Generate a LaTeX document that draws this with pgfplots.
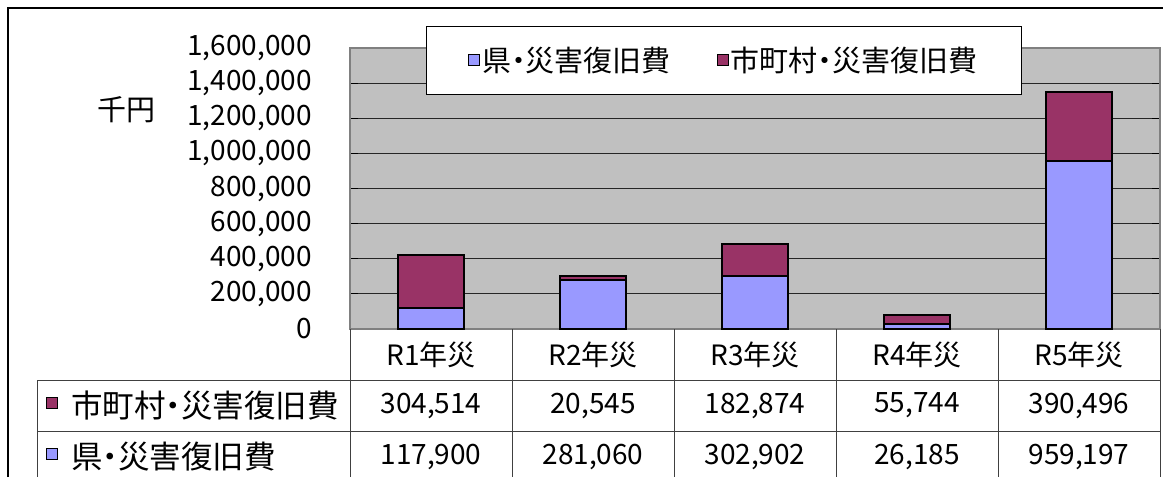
\documentclass[border=0pt]{standalone}
\usepackage{fontspec}
\setmainfont[RawFeature=+palt]{Noto Sans CJK JP}
\usepackage{pgfplots}
\pgfplotsset{compat=1.18}
\definecolor{pgray}{HTML}{C0C0C0}
\definecolor{lav}{HTML}{9999FF}
\definecolor{mar}{HTML}{993366}
\newcommand{\fs}[1]{\fontsize{#1}{#1}\selectfont}
\begin{document}
\begin{tikzpicture}
\useasboundingbox (0,0) rectangle (1163pt,-477pt);
\begin{axis}[
  at={(350pt,-329pt)}, anchor=south west,
  scale only axis, width=810pt, height=281pt,
  xmin=-0.5, xmax=4.5, ymin=0, ymax=1600000,
  ybar stacked, bar width=0.41,
  xtick={0,1,2,3,4},
  xticklabels={R1年災,R2年災,R3年災,R4年災,R5年災},
  xtick style={draw=none},
  xticklabel style={anchor=center, yshift=-25.5pt, font=\fs{28}},
  ytick={0,200000,...,1600000},
  scaled y ticks=false,
  yticklabel style={/pgf/number format/fixed, /pgf/number format/precision=0,
    /pgf/number format/1000 sep={,}, /pgf/number format/assume math mode=true,
    font=\fs{28}, anchor=east, inner sep=0pt, xshift=-38pt},
  ymajorgrids, grid style={black!85, line width=0.8pt},
  ytick style={black, line width=1pt}, major tick length=8pt, tick align=inside,
  axis line style={draw=gray, line width=1.5pt},
  axis background/.style={fill=pgray},
  legend style={at={(axis description cs:0.0938,1.0783)}, anchor=north west,
    legend columns=2, draw=black, line width=0.8pt, fill=white, font=\fs{29},
    inner xsep=42pt, inner ysep=19pt, nodes={inner sep=2pt},
    /tikz/every even column/.append style={column sep=44pt}},
  legend image code/.code={\filldraw[#1, draw=black, line width=0.9pt] (0pt,-5.5pt) rectangle (11pt,5.5pt);},
]
\addplot[fill=lav, draw=black, line width=2pt] coordinates {(0,117900) (1,281060) (2,302902) (3,26185) (4,959197)};
\addlegendentry{県・災害復旧費}
\addplot[fill=mar, draw=black, line width=2pt] coordinates {(0,304514) (1,20545) (2,182874) (3,55744) (4,390496)};
\addlegendentry{市町村・災害復旧費}
\end{axis}
% outer chart border
\draw[black, line width=1.5pt] (8pt,-477pt) -- (8pt,-8pt) -- (1163pt,-8pt);
\node[font=\fs{29}] at (126pt,-110pt) {千円};
% data table
\begin{scope}[draw=black!75, line width=1pt]
\foreach \x in {350,512,674,836,998,1160} \draw (\x pt,-329pt) -- (\x pt,-477pt);
\draw (37pt,-380pt) -- (1160pt,-380pt);
\draw (37pt,-431pt) -- (1160pt,-431pt);
\draw (37pt,-380pt) -- (37pt,-477pt);
\end{scope}
\filldraw[fill=mar, draw=black, line width=0.9pt] (46pt,-397pt) rectangle (57pt,-408pt);
\filldraw[fill=lav, draw=black, line width=0.9pt] (46pt,-448pt) rectangle (57pt,-459pt);
\node[font=\fs{31.5}, anchor=west, inner sep=0pt] at (71pt,-405.5pt) {市町村・災害復旧費};
\node[font=\fs{31.5}, anchor=west, inner sep=0pt] at (71pt,-456.5pt) {県・災害復旧費};
\foreach \x/\a/\b in {431/304{,}514/117{,}900, 593/20{,}545/281{,}060, 755/182{,}874/302{,}902, 917/55{,}744/26{,}185, 1079/390{,}496/959{,}197}{
  \node[font=\fs{28}] at (\x pt,-405.5pt) {\a};
  \node[font=\fs{28}] at (\x pt,-456.5pt) {\b};
}
\end{tikzpicture}
\end{document}
